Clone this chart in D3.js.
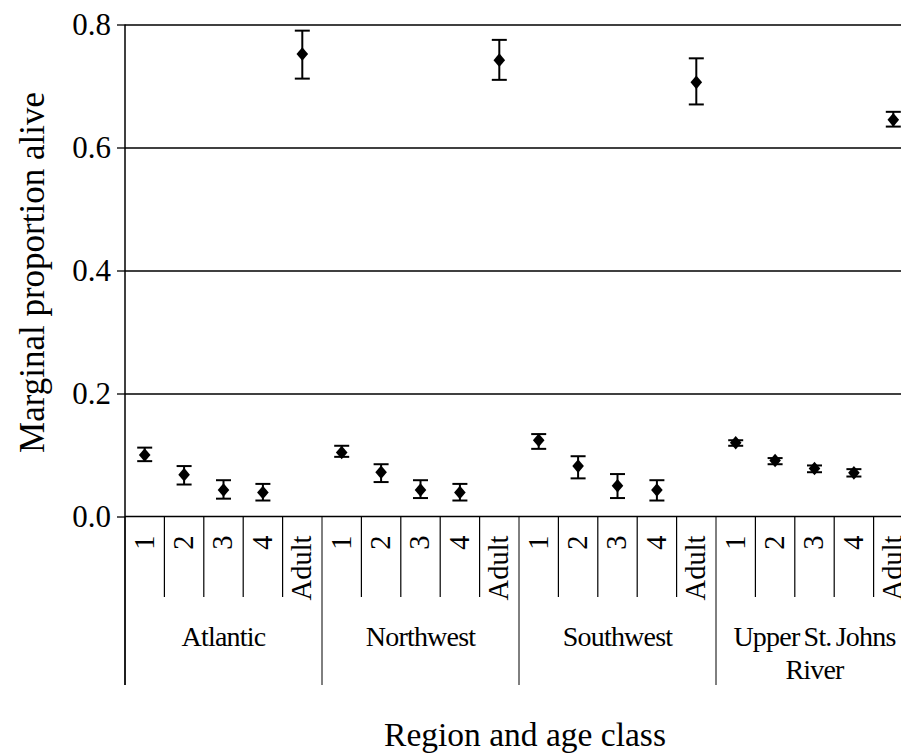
<!DOCTYPE html>
<html>
<head>
<meta charset="utf-8">
<script src="https://cdn.jsdelivr.net/npm/d3@7"></script>
<style>
  body { margin: 0; background: #fff; }
  svg text { font-family: "Liberation Serif", "DejaVu Serif", serif !important; fill: #000; }
</style>
</head>
<body>
<div id="chart"></div>
<script>
var regions = ["Atlantic", "Northwest", "Southwest", "Upper St. Johns River"];
var ageClasses = ["1", "2", "3", "4", "Adult"];

// marginal proportion alive, region by region, age classes 1-4 then Adult
var meanAlive = [
	0.100, 0.068, 0.043, 0.039, 0.752,
	0.104, 0.072, 0.043, 0.039, 0.742,
	0.124, 0.082, 0.050, 0.043, 0.706,
	0.120, 0.091, 0.078, 0.071, 0.645
];
var lowerCI = [
	0.090, 0.052, 0.029, 0.026, 0.712,
	0.097, 0.056, 0.030, 0.026, 0.710,
	0.110, 0.062, 0.030, 0.026, 0.670,
	0.115, 0.085, 0.072, 0.065, 0.634
];
var upperCI = [
	0.112, 0.082, 0.059, 0.053, 0.790,
	0.115, 0.085, 0.059, 0.053, 0.775,
	0.134, 0.098, 0.069, 0.059, 0.745,
	0.124, 0.095, 0.083, 0.077, 0.658
];
var yTicks = [0, 0.2, 0.4, 0.6, 0.8];

var width = 901, height = 753;
var plotLeft = 125, plotRight = 913, plotTop = 24.5, plotBottom = 516.5;
var serif = "'Liberation Serif', 'DejaVu Serif', serif";

var points = [];
regions.forEach(function(r, ri) {
	ageClasses.forEach(function(a, ai) {
		var i = ri * ageClasses.length + ai;
		points.push({key: r + "|" + a, region: r, age: a, mean: meanAlive[i], lo: lowerCI[i], hi: upperCI[i]});
	});
});

var x = d3.scaleBand()
	.domain(points.map(function(d) { return d.key; }))
	.range([plotLeft, plotRight]);
var xGroup = d3.scaleBand()
	.domain(regions)
	.range([plotLeft, plotRight]);
var y = d3.scaleLinear()
	.domain([0, 0.8])
	.range([plotBottom, plotTop]);

var svg = d3.select("#chart")
	.append("svg")
	.attr("width", width)
	.attr("height", height)
	.attr("font-family", serif)
	;

// gridlines
svg.append("g")
	.attr("transform", "translate(" + plotLeft + ",0)")
	.call(d3.axisLeft(y).tickValues(yTicks.slice(1)).tickSize(-(width - plotLeft)).tickFormat(""))
	.call(function(g) {
		g.select(".domain").remove();
		g.selectAll("line").attr("stroke", "#000").attr("stroke-width", 1.3);
	});

// y axis
svg.append("g")
	.attr("transform", "translate(" + plotLeft + ",0)")
	.call(d3.axisLeft(y).tickValues(yTicks).tickSize(8).tickPadding(6).tickFormat(d3.format(".1f")))
	.call(function(g) {
		g.attr("font-family", serif);
		g.select(".domain").remove();
		g.selectAll("line").attr("stroke", "#000").attr("stroke-width", 1.3);
		g.selectAll("text").style("font-size", "31px");
	});

// x baseline
svg.append("line")
	.attr("x1", plotLeft).attr("x2", width)
	.attr("y1", y(0)).attr("y2", y(0))
	.attr("stroke", "#000").attr("stroke-width", 1.3);

// category dividers
var divTop = y(0);
svg.selectAll(".div")
	.data(points)
	.enter().append("line")
	.attr("x1", function(d) { return x(d.key); })
	.attr("x2", function(d) { return x(d.key); })
	.attr("y1", divTop)
	.attr("y2", function(d) { return d.age === ageClasses[0] ? 685 : 597; })
	.attr("stroke", "#000")
	.attr("stroke-width", function(d) { return d.age === ageClasses[0] ? 1 : 1.2; })
	;

// y axis line
svg.append("line")
	.attr("x1", plotLeft).attr("x2", plotLeft)
	.attr("y1", plotTop).attr("y2", 685)
	.attr("stroke", "#000").attr("stroke-width", 1.5);

// age class labels (rotated)
svg.selectAll(".age")
	.data(points)
	.enter().append("text")
	.attr("transform", function(d) {
		return "translate(" + (x(d.key) + x.bandwidth() / 2 - 1) + "," + (divTop + 19) + ") rotate(-90)";
	})
	.attr("dy", "0.35em")
	.attr("text-anchor", "end")
	.style("font-size", "28.5px")
	.text(function(d) { return d.age; })
	;

// region labels
svg.selectAll(".region")
	.data(regions)
	.enter().append("text")
	.attr("x", function(d) { return xGroup(d) + xGroup.bandwidth() / 2; })
	.attr("y", 646)
	.attr("text-anchor", "middle")
	.style("font-size", "28px")
	.style("letter-spacing", "-0.8px")
	.style("word-spacing", "-2px")
	.each(function(d) {
		var t = d3.select(this);
		if (d === "Upper St. Johns River") {
			t.append("tspan").attr("x", t.attr("x")).text("Upper St. Johns");
			t.append("tspan").attr("x", t.attr("x")).attr("dy", 33).text("River");
		} else {
			t.text(d);
		}
	})
	;

// error bars
var cap = 7.5;
var bars = svg.selectAll(".bar")
	.data(points)
	.enter().append("g")
	.attr("transform", function(d) { return "translate(" + (x(d.key) + x.bandwidth() / 2) + ",0)"; })
	;
bars.append("line")
	.attr("y1", function(d) { return y(d.lo); })
	.attr("y2", function(d) { return y(d.hi); })
	.attr("stroke", "#000").attr("stroke-width", 2);
bars.append("line")
	.attr("x1", -cap).attr("x2", cap)
	.attr("y1", function(d) { return y(d.lo); })
	.attr("y2", function(d) { return y(d.lo); })
	.attr("stroke", "#000").attr("stroke-width", 2);
bars.append("line")
	.attr("x1", -cap).attr("x2", cap)
	.attr("y1", function(d) { return y(d.hi); })
	.attr("y2", function(d) { return y(d.hi); })
	.attr("stroke", "#000").attr("stroke-width", 2);

// diamond markers
var diamond = {
	draw: function(ctx, size) {
		var h = Math.sqrt(size) * 0.65, w = h * 0.85;
		ctx.moveTo(0, -h);
		ctx.lineTo(w, 0);
		ctx.lineTo(0, h);
		ctx.lineTo(-w, 0);
		ctx.closePath();
	}
};
bars.append("path")
	.attr("transform", function(d) { return "translate(0," + y(d.mean) + ")"; })
	.attr("d", d3.symbol().type(diamond).size(110))
	.attr("fill", "#000");

// axis titles
svg.append("text")
	.attr("transform", "translate(32," + ((plotTop + plotBottom) / 2 + 2) + ") rotate(-90)")
	.attr("text-anchor", "middle")
	.attr("dy", "0.35em")
	.style("font-size", "35px")
	.text("Marginal proportion alive");

svg.append("text")
	.attr("x", 525)
	.attr("y", 746)
	.attr("text-anchor", "middle")
	.style("font-size", "33.5px")
	.text("Region and age class");
</script>
</body>
</html>
